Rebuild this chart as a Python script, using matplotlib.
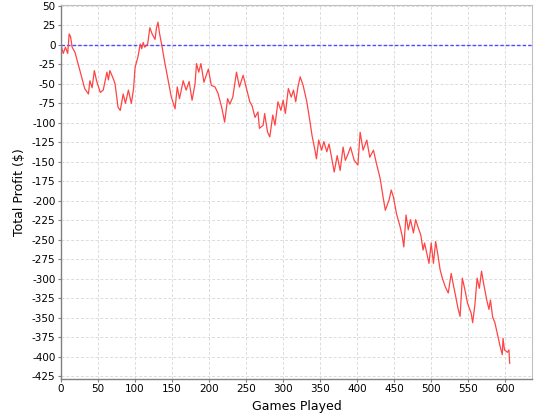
import numpy as np
import matplotlib.pyplot as plt

plt.rcParams['axes.unicode_minus'] = False

# games played vs. running profit
games = [0, 3, 6, 9, 11, 13, 15, 19, 23, 28, 32, 37, 39, 42, 45, 48, 53, 57, 62, 64,
         66, 70, 73, 77, 80, 84, 87, 91, 95, 98, 100, 104, 107, 109, 111, 113, 117, 120, 123, 127,
         129, 131, 133, 136, 140, 145, 149, 154, 157, 160, 165, 169, 173, 177, 181, 183, 186, 189, 193, 199,
         203, 208, 212, 217, 221, 225, 228, 232, 237, 241, 246, 250, 255, 258, 262, 266, 268, 273, 275, 279,
         282, 286, 289, 293, 297, 300, 303, 307, 311, 314, 317, 320, 323, 327, 332, 336, 339, 343, 345, 348,
         352, 355, 359, 362, 365, 369, 373, 377, 381, 384, 388, 391, 396, 401, 404, 408, 413, 417, 422, 426,
         431, 435, 438, 443, 446, 449, 453, 458, 461, 463, 466, 469, 472, 476, 479, 482, 486, 489, 491, 495,
         497, 500, 503, 506, 509, 512, 515, 519, 523, 527, 530, 533, 536, 539, 542, 546, 549, 554, 556, 559,
         562, 565, 568, 571, 575, 578, 580, 583, 586, 589, 593, 596, 597, 599, 603, 605, 606]
profit = [0, -11, -3, -11, 14, 10, -3, -10, -24, -41, -56, -63, -46, -55, -33, -46, -61, -58, -35, -45,
          -33, -42, -50, -80, -84, -63, -75, -58, -75, -56, -29, -15, 1, -5, 3, -3, 1, 22, 14, 7,
          22, 29, 15, 0, -22, -47, -67, -82, -54, -69, -46, -58, -47, -71, -50, -24, -35, -24, -48, -31,
          -52, -54, -62, -80, -99, -69, -76, -67, -35, -54, -39, -54, -73, -78, -93, -86, -107, -103, -88, -112,
          -118, -90, -103, -73, -84, -71, -88, -56, -67, -58, -73, -54, -41, -52, -73, -97, -116, -135, -146, -122,
          -135, -124, -137, -127, -142, -163, -142, -161, -131, -148, -139, -131, -148, -154, -112, -135, -122, -144, -135, -152,
          -171, -195, -212, -199, -186, -195, -216, -233, -246, -259, -218, -237, -224, -241, -224, -233, -244, -263, -254, -271,
          -280, -254, -280, -252, -269, -288, -299, -310, -318, -293, -308, -322, -337, -348, -299, -316, -331, -344, -356, -333,
          -299, -312, -290, -307, -327, -339, -327, -349, -356, -369, -386, -397, -376, -391, -394, -391, -408]

x_ticks = np.arange(0, 601, 50)
y_ticks = np.arange(-425, 51, 25)

fig = plt.figure(figsize=(5.4, 4.2), dpi=100)
ax = fig.add_axes([0.113, 0.098, 0.872, 0.89])

# break-even line
ax.axhline(0, color='#4b4bff', lw=1.0, ls=(0, (2.5, 1.5)))
ax.plot(games, profit, color='#ff4444', lw=0.9)

ax.set_xlim(0, 636)
ax.set_ylim(-428, 51)
ax.set_xticks(x_ticks)
ax.set_yticks(y_ticks)
ax.tick_params(labelsize=7.5, length=2, width=0.8, color='#808080', pad=2)
ax.grid(True, color='#dcdcdc', ls=(0, (3, 2)), lw=0.7)
ax.set_axisbelow(True)

for side in ['left', 'bottom']:
    ax.spines[side].set_color('#808080')
    ax.spines[side].set_linewidth(1.0)
for side in ['top', 'right']:
    ax.spines[side].set_color('#c0c0c0')
    ax.spines[side].set_linewidth(0.8)

ax.set_xlabel('Games Played', fontsize=9, labelpad=4)
ax.set_ylabel('Total Profit ($)', fontsize=9, labelpad=4)

plt.savefig('out.png', dpi=100)
plt.close('all')
